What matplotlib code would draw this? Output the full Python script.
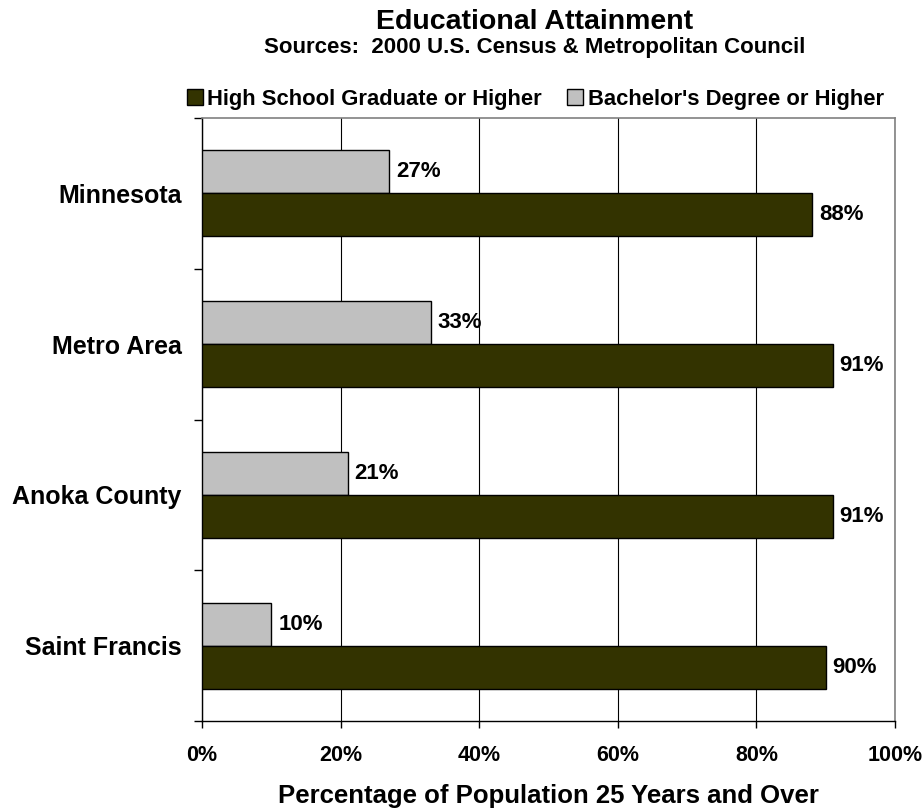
import matplotlib.pyplot as plt
import numpy as np
from matplotlib.patches import Patch
from matplotlib.ticker import PercentFormatter

plt.rcParams['font.family'] = ['Liberation Sans', 'DejaVu Sans']
plt.rcParams['font.weight'] = 'bold'

# Data
places = ['Minnesota', 'Metro Area', 'Anoka County', 'Saint Francis']
high_school = [88, 91, 91, 90]
bachelors = [27, 33, 21, 10]
series_names = ['High School Graduate or Higher', "Bachelor's Degree or Higher"]

dark = '#333300'
gray = '#c0c0c0'

fig = plt.figure(figsize=(9.24, 8.09), dpi=100)
ax = fig.add_axes([202 / 924, 1 - 721 / 809, 693 / 924, 603 / 809])

y = np.arange(len(places))
h = 0.285
ax.barh(y - h / 2, bachelors, height=h, color=gray, edgecolor='black', linewidth=1, zorder=3)
ax.barh(y + h / 2, high_school, height=h, color=dark, edgecolor='black', linewidth=1, zorder=3)

for i in range(len(places)):
    ax.text(bachelors[i] + 1, y[i] - h / 2, f'{bachelors[i]}%', va='center', ha='left',
            fontsize=16, fontweight='bold')
    ax.text(high_school[i] + 1, y[i] + h / 2, f'{high_school[i]}%', va='center', ha='left',
            fontsize=16, fontweight='bold')

ax.set_xlim(0, 100)
ax.set_ylim(len(places) - 0.5, -0.5)
ax.set_xticks(np.arange(0, 101, 20))
ax.xaxis.set_major_formatter(PercentFormatter(decimals=0))
ax.set_yticks(y)
ax.set_yticklabels(places, fontsize=18, fontweight='bold')
ax.set_yticks(np.arange(-0.5, len(places), 1), minor=True)
ax.tick_params(axis='y', which='major', length=0, pad=14.5)
ax.tick_params(axis='y', which='minor', length=6, width=1, direction='out')
ax.tick_params(axis='x', length=5, width=1, labelsize=15.5, pad=12)
for lbl in ax.get_xticklabels():
    lbl.set_fontweight('bold')

ax.grid(axis='x', color='black', linewidth=0.8, zorder=0)
ax.set_axisbelow(True)
for s in ['top', 'right']:
    ax.spines[s].set_color('#808080')
    ax.spines[s].set_linewidth(1.2)
for s in ['left', 'bottom']:
    ax.spines[s].set_color('black')
    ax.spines[s].set_linewidth(1)

fig.text(548.5 / 924, 1 - 803 / 809, 'Percentage of Population 25 Years and Over', ha='center',
         va='baseline', fontsize=18.5, fontweight='bold')

fig.text(535 / 924, 1 - 29 / 809, 'Educational Attainment', ha='center', va='baseline',
         fontsize=20.5, fontweight='bold')
fig.text(535 / 924, 1 - 53 / 809, 'Sources:  2000 U.S. Census & Metropolitan Council', ha='center',
         va='baseline', fontsize=16, fontweight='bold')

handles = [Patch(facecolor=dark, edgecolor='black'), Patch(facecolor=gray, edgecolor='black')]
fig.legend(handles, series_names, loc='center', bbox_to_anchor=(535.5 / 924, 1 - 99 / 809), ncol=2,
           frameon=False, prop={'size': 15.8, 'weight': 'bold'}, handlelength=0.72, handleheight=0.72,
           handletextpad=0.2, columnspacing=1.15, borderpad=0, borderaxespad=0)

fig.savefig('out.png', dpi=100)
